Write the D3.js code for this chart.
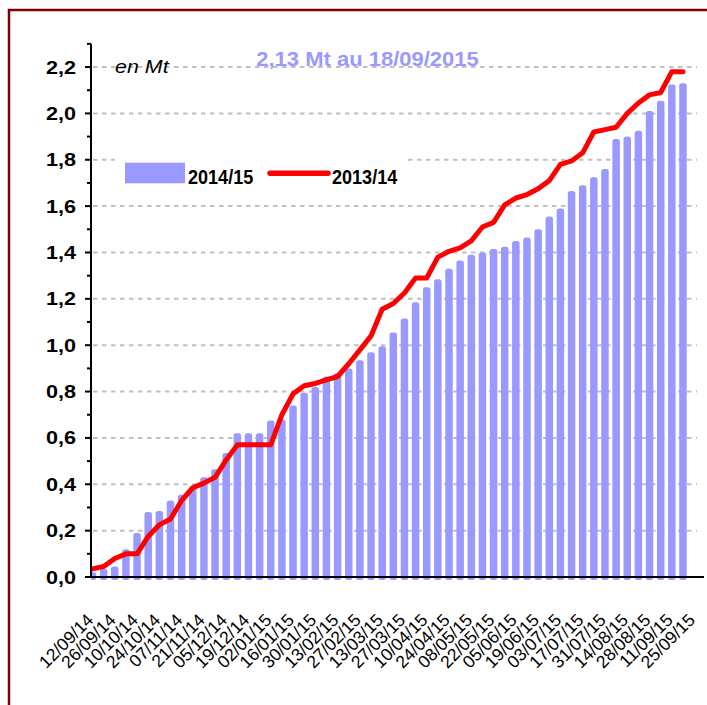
<!DOCTYPE html>
<html>
<head>
<meta charset="utf-8">
<script src="https://cdn.jsdelivr.net/npm/d3@7"></script>
<style>
  body { margin: 0; background: #fff; }
  svg { display: block; font-family: "Liberation Sans", Arial, sans-serif; }
</style>
</head>
<body>
<script>
// weekly cumulative figures, in Mt
const startWeek = new Date(2014, 8, 12);
const weekCount = 55;

const tickLabels = ["12/09/14", "26/09/14", "10/10/14", "24/10/14", "07/11/14", "21/11/14", "05/12/14",
    "19/12/14", "02/01/15", "16/01/15", "30/01/15", "13/02/15", "27/02/15", "13/03/15", "27/03/15",
    "10/04/15", "24/04/15", "08/05/15", "22/05/15", "05/06/15", "19/06/15", "03/07/15", "17/07/15",
    "31/07/15", "14/08/15", "28/08/15", "11/09/15", "25/09/15"];

const season1415 = [0.02, 0.035, 0.045, 0.12, 0.19, 0.28, 0.285, 0.33, 0.355, 0.39,
    0.43, 0.465, 0.535, 0.62, 0.62, 0.62, 0.675, 0.68, 0.74, 0.795,
    0.82, 0.865, 0.88, 0.90, 0.935, 0.97, 0.995, 1.055, 1.115, 1.185,
    1.25, 1.285, 1.33, 1.365, 1.39, 1.40, 1.415, 1.425, 1.45, 1.465,
    1.50, 1.555, 1.59, 1.665, 1.69, 1.725, 1.76, 1.89, 1.90, 1.925,
    2.01, 2.055, 2.125, 2.13];

const season1314 = [0.035, 0.045, 0.08, 0.10, 0.10, 0.175, 0.225, 0.25, 0.33, 0.385,
    0.405, 0.43, 0.505, 0.57, 0.57, 0.57, 0.57, 0.70, 0.79, 0.825,
    0.835, 0.85, 0.865, 0.92, 0.98, 1.04, 1.155, 1.18, 1.225, 1.29,
    1.29, 1.38, 1.405, 1.42, 1.45, 1.51, 1.53, 1.605, 1.635, 1.65,
    1.675, 1.71, 1.78, 1.795, 1.83, 1.92, 1.93, 1.94, 2.00, 2.045,
    2.08, 2.09, 2.18, 2.18];

const yTicks = [0, 0.2, 0.4, 0.6, 0.8, 1.0, 1.2, 1.4, 1.6, 1.8, 2.0, 2.2];
const yMinorTicks = [0.1, 0.3, 0.5, 0.7, 0.9, 1.1, 1.3, 1.5, 1.7, 1.9, 2.1, 2.3];

const fmtDay = d3.timeFormat("%d/%m/%y");
const weeks = d3.range(weekCount).map(i => fmtDay(d3.timeDay.offset(startWeek, 7 * i)));

const width = 707, height = 705;
const axisX = 91, axisY = 577;

const svg = d3.select("body").append("svg")
    .attr("width", width)
    .attr("height", height);

const x = d3.scalePoint().domain(weeks).range([92.5, 694.1]);
const y = d3.scaleLinear().domain([0, 2.3]).range([axisY, axisY - 2.3 * 231.8]);

// frame
svg.append("rect")
    .attr("x", 9).attr("y", 10)
    .attr("width", 800).attr("height", 800)
    .attr("fill", "none")
    .attr("stroke", "#800000")
    .attr("stroke-width", 2.5);

// dashed grid
svg.append("g")
    .selectAll("line")
    .data(yTicks.filter(d => d > 0))
    .join("line")
    .attr("x1", axisX + 2).attr("x2", 697)
    .attr("y1", d => y(d)).attr("y2", d => y(d))
    .attr("stroke", "#c0c0c0")
    .attr("stroke-width", 2)
    .attr("stroke-dasharray", "4.5,4.5");

// bars, clipped at the value axis
svg.append("clipPath").attr("id", "plot")
    .append("rect").attr("x", axisX).attr("y", 0).attr("width", 620).attr("height", 700);

const barW = 7.5;
svg.append("g")
    .attr("clip-path", "url(#plot)")
    .selectAll("rect")
    .data(season1415)
    .join("rect")
    .attr("x", (d, i) => x(weeks[i]) - barW / 2)
    .attr("y", d => y(d))
    .attr("width", barW)
    .attr("height", d => y(0) - y(d) + 3)
    .attr("rx", 2.5)
    .attr("fill", "#9999ff");

// 2013/14 line
const line = d3.line()
    .x((d, i) => x(weeks[i]))
    .y(d => y(d));

svg.append("path")
    .datum(season1314)
    .attr("d", line)
    .attr("fill", "none")
    .attr("stroke", "#ff0000")
    .attr("stroke-width", 5)
    .attr("stroke-linejoin", "round")
    .attr("stroke-linecap", "round");

// axes
svg.append("line")
    .attr("x1", axisX).attr("x2", 704)
    .attr("y1", axisY).attr("y2", axisY)
    .attr("stroke", "#000").attr("stroke-width", 2);

svg.append("line")
    .attr("x1", axisX).attr("x2", axisX)
    .attr("y1", y(2.3)).attr("y2", axisY + 1)
    .attr("stroke", "#000").attr("stroke-width", 2);

svg.append("g")
    .selectAll("line")
    .data(yTicks)
    .join("line")
    .attr("x1", axisX - 6).attr("x2", axisX)
    .attr("y1", d => y(d)).attr("y2", d => y(d))
    .attr("stroke", "#000").attr("stroke-width", 2);

svg.append("g")
    .selectAll("line")
    .data(yMinorTicks)
    .join("line")
    .attr("x1", axisX - 4).attr("x2", axisX)
    .attr("y1", d => y(d)).attr("y2", d => y(d))
    .attr("stroke", "#000").attr("stroke-width", 2);

const yFmt = d => d.toFixed(1).replace(".", ",");
svg.append("g")
    .selectAll("text")
    .data(yTicks)
    .join("text")
    .attr("transform", d => `translate(76,${y(d) + 6.5}) scale(1.2,1)`)
    .attr("text-anchor", "end")
    .attr("font-size", 18)
    .attr("font-weight", "bold")
    .text(yFmt);

// date labels
svg.append("g")
    .selectAll("text")
    .data(tickLabels)
    .join("text")
    .attr("transform", d => `translate(${x(d) + 2},621) rotate(-45)`)
    .attr("text-anchor", "end")
    .attr("font-size", 17.5)
    .text(d => d);

// unit and headline
svg.append("text")
    .attr("transform", "translate(115,73) scale(1.16,1)")
    .attr("font-size", 18.5)
    .attr("font-style", "italic")
    .text("en Mt");

svg.append("text")
    .attr("transform", "translate(367.5,65.5) scale(1.1,1)")
    .attr("text-anchor", "middle")
    .attr("font-size", 20)
    .attr("font-weight", "bold")
    .attr("fill", "#9999ff")
    .text("2,13 Mt au 18/09/2015");

// legend
const legend = svg.append("g");
legend.append("rect")
    .attr("x", 115).attr("y", 148)
    .attr("width", 290).attr("height", 46)
    .attr("fill", "#fff");
legend.append("rect")
    .attr("x", 125).attr("y", 162.7)
    .attr("width", 60).attr("height", 20.6)
    .attr("fill", "#9999ff");
legend.append("text")
    .attr("transform", "translate(188,184.3) scale(0.86,1)")
    .attr("font-size", 21)
    .attr("font-weight", "bold")
    .text("2014/15");
legend.append("line")
    .attr("x1", 270).attr("x2", 328)
    .attr("y1", 173.3).attr("y2", 173.3)
    .attr("stroke", "#ff0000")
    .attr("stroke-width", 5.5)
    .attr("stroke-linecap", "round");
legend.append("text")
    .attr("transform", "translate(332,184.3) scale(0.86,1)")
    .attr("font-size", 21)
    .attr("font-weight", "bold")
    .text("2013/14");
</script>
</body>
</html>
